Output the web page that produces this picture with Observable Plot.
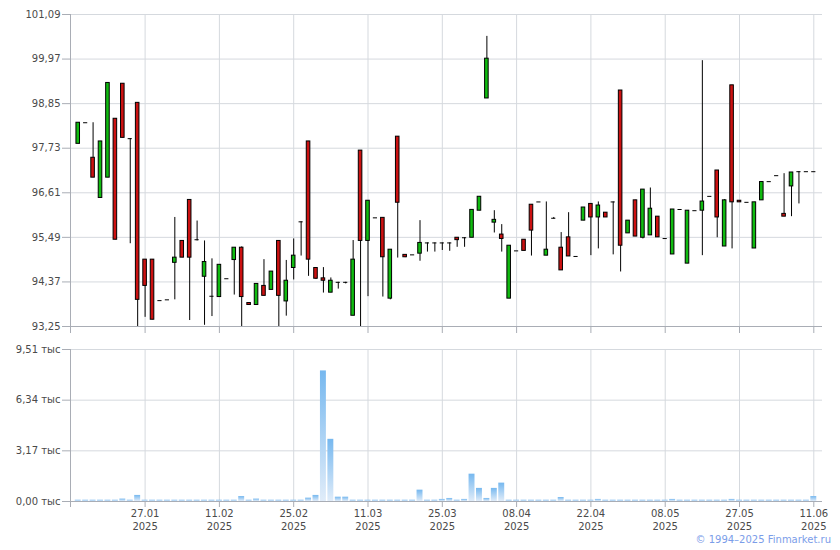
<!DOCTYPE html>
<html><head><meta charset="utf-8">
<script src="https://cdn.jsdelivr.net/npm/d3@7"></script>
<script src="https://cdn.jsdelivr.net/npm/@observablehq/plot@0.6"></script>
<style>
body{margin:0;background:#fff;}
#chart{position:relative;width:840px;height:550px;font-family:"DejaVu Sans",Verdana,sans-serif;}
#chart svg{position:absolute;left:0;}
#copy{position:absolute;right:9px;top:534px;font-size:10px;line-height:12px;color:#7b9de9;white-space:nowrap;}
</style></head><body><div id="chart"><div id="copy">© 1994–2025 Finmarket.ru</div></div>
<script>
// Trading-day candles (index 0..99), prices
const openP = [97.84,98.37,97.49,96.48,96.99,98.47,99.35,97.97,98.87,94.93,
  94.93,93.90,93.92,94.85,95.40,96.43,95.43,94.50,94.01,93.99,
  94.45,94.92,95.23,93.84,93.79,94.27,94.17,95.40,93.88,94.72,
  95.88,97.90,94.72,94.46,94.10,94.36,94.36,93.52,97.67,95.40,
  95.98,95.98,93.95,98.02,95.05,95.05,95.08,95.35,95.35,95.35,
  95.35,95.48,95.48,95.48,96.16,98.98,95.86,95.56,93.95,95.15,
  95.43,96.31,96.38,95.03,95.97,95.23,95.49,95.01,95.91,96.33,
  95.99,96.11,96.38,99.18,95.59,96.42,95.48,95.54,96.01,95.46,
  95.06,96.19,94.83,96.16,96.16,96.52,97.17,95.26,99.31,96.41,
  96.37,95.21,96.42,96.89,97.04,96.08,96.77,97.14,97.14,97.14];
const highP = [98.37,98.37,98.37,97.90,99.37,98.47,99.35,97.97,98.87,94.93,
  94.93,93.90,93.92,95.99,95.40,96.43,95.90,95.40,94.95,94.80,
  94.45,95.23,95.25,93.84,94.32,94.93,94.63,95.40,94.91,95.45,
  95.88,97.90,94.72,94.73,94.47,94.36,94.36,95.41,97.67,96.41,
  95.98,95.98,95.18,98.02,95.05,95.05,95.91,95.35,95.35,95.35,
  95.35,95.48,95.48,96.18,96.51,100.54,96.16,95.81,95.28,95.15,
  95.43,96.31,96.38,96.38,95.99,95.61,96.11,95.01,96.24,96.33,
  96.38,96.11,96.38,99.18,95.91,96.42,96.69,96.73,96.01,95.46,
  96.19,96.19,96.16,96.16,99.93,96.52,97.17,96.44,99.31,96.41,
  96.37,96.37,96.88,96.89,97.04,97.09,97.12,97.14,97.14,97.14];
const lowP = [97.84,98.37,96.99,96.48,96.99,95.43,97.99,95.33,93.25,93.48,
  93.42,93.90,93.92,93.92,94.98,93.40,95.40,93.28,93.50,93.99,
  94.45,94.04,93.25,93.79,93.79,94.02,94.17,93.25,93.51,94.42,
  95.02,94.51,94.43,94.09,94.10,94.19,94.32,93.52,93.25,94.00,
  95.98,93.99,93.92,94.97,94.98,95.05,94.89,95.12,95.12,95.16,
  95.14,95.24,95.24,95.48,96.16,98.98,95.60,95.12,93.95,95.15,
  95.15,95.02,96.38,95.03,95.95,94.66,95.01,95.01,95.91,95.03,
  95.20,95.99,95.05,94.62,95.59,95.51,95.45,95.54,95.49,95.46,
  95.06,96.19,94.83,96.16,95.03,96.52,95.48,95.26,95.20,96.37,
  96.37,95.21,96.42,96.89,97.04,96.01,96.01,96.33,97.14,97.14];
const closeP = [98.37,98.37,96.99,97.90,99.37,95.43,97.99,97.97,93.92,94.27,
  93.42,93.90,93.92,94.98,94.98,94.98,95.43,94.87,94.01,94.80,
  94.45,95.23,93.99,93.79,94.32,94.02,94.63,94.02,94.40,95.03,
  95.88,94.93,94.45,94.40,94.40,94.36,94.36,94.93,95.40,96.41,
  95.98,94.99,95.18,96.36,94.99,95.05,95.35,95.35,95.35,95.35,
  95.35,95.42,95.48,96.18,96.51,99.98,95.93,95.45,95.28,95.15,
  95.15,95.66,96.38,95.18,95.97,94.66,95.01,95.01,96.24,95.99,
  96.29,95.99,96.38,95.28,95.91,95.51,96.69,96.21,95.49,95.46,
  96.19,96.19,96.16,96.16,96.39,96.52,95.99,96.42,96.37,96.37,
  96.37,96.37,96.88,96.89,97.04,96.01,97.12,97.14,97.14,97.14];
// Volume, thousands
const volume = [0.08,0.08,0.08,0.08,0.08,0.08,0.15,0.08,0.38,0.08,
  0.08,0.08,0.08,0.08,0.08,0.08,0.08,0.08,0.08,0.08,
  0.08,0.08,0.31,0.08,0.15,0.08,0.08,0.08,0.08,0.08,
  0.08,0.21,0.38,8.17,3.89,0.27,0.27,0.08,0.08,0.08,
  0.08,0.08,0.08,0.08,0.08,0.08,0.71,0.08,0.08,0.13,
  0.19,0.08,0.13,1.71,0.82,0.19,0.82,1.15,0.08,0.08,
  0.08,0.08,0.08,0.08,0.08,0.25,0.08,0.08,0.08,0.08,
  0.13,0.08,0.08,0.08,0.08,0.08,0.08,0.08,0.08,0.08,
  0.13,0.08,0.08,0.08,0.08,0.08,0.08,0.08,0.13,0.08,
  0.08,0.08,0.08,0.08,0.08,0.08,0.08,0.08,0.08,0.31];
const tickLabels = ["27.01\n2025","11.02\n2025","25.02\n2025","11.03\n2025","25.03\n2025",
  "08.04\n2025","22.04\n2025","08.05\n2025","27.05\n2025","11.06\n2025"];
const priceTicks = [93.25,94.37,95.49,96.61,97.73,98.85,99.97,101.09];
const volTicks = [0,3.17,6.34,9.51];

const candles = openP.map((o,i)=>({i, open:o, high:highP[i], low:lowP[i], close:closeP[i]}));
const vols = volume.map((v,i)=>({i, v}));
const tickIdx = tickLabels.map((_,k)=>9+10*k);
const labelOf = new Map(tickIdx.map((t,k)=>[t,tickLabels[k]]));
const xDomain = [-1.04, 100.17];
const gridC = "#d5d9de", axisC = "#a9adb5", textC = "#4a4a4a";
const green = "#10bb10", red = "#cc1111";
const fmt = d => d.toFixed(2).replace(".", ",");
const font = {fontFamily:'"DejaVu Sans",Verdana,sans-serif', fontSize:"10px", color:textC, background:"transparent"};

const bodies = candles.filter(d => d.open !== d.close);
const dojis = candles.filter(d => d.open === d.close);
const wicks = candles.filter(d => d.high > d.low);

const topPlot = Plot.plot({
  width:840, height:336, marginTop:14, marginBottom:10, marginLeft:70, marginRight:18,
  style: font,
  x:{domain:xDomain, axis:null},
  y:{domain:[93.25,101.09], axis:null},
  marks:[
    Plot.gridY(priceTicks, {stroke:gridC, strokeOpacity:1}),
    Plot.gridX(tickIdx, {stroke:gridC, strokeOpacity:1}),
    Plot.ruleX([xDomain[0]], {stroke:axisC}),
    Plot.ruleY([93.25], {stroke:axisC}),
    Plot.axisY(priceTicks, {tickSize:8, tickPadding:2, tickFormat:fmt, stroke:axisC, fill:textC, label:null}),
    Plot.axisX([xDomain[0], ...tickIdx], {tickSize:7, tickFormat:()=>"", stroke:axisC, label:null}),
    Plot.ruleX(wicks, {x:"i", y1:"low", y2:"high", stroke:"#000", strokeWidth:1}),
    Plot.rect(bodies, {x1:d=>d.i-0.24, x2:d=>d.i+0.24, y1:"open", y2:"close",
      fill:d=>d.close>d.open?green:red, stroke:"#000", strokeWidth:1}),
    Plot.ruleY(dojis, {y:"close", x1:d=>d.i-0.28, x2:d=>d.i+0.28, stroke:"#000", strokeWidth:1})
  ]
});
topPlot.style.top = "0px";

const botPlot = Plot.plot({
  width:840, height:215, marginTop:14, marginBottom:49, marginLeft:70, marginRight:18,
  style: font,
  x:{domain:xDomain, axis:null},
  y:{domain:[0,9.51], axis:null},
  marks:[
    Plot.gridY(volTicks, {stroke:gridC, strokeOpacity:1}),
    Plot.gridX(tickIdx, {stroke:gridC, strokeOpacity:1}),
    Plot.rectY(vols, {x1:d=>d.i-0.4, x2:d=>d.i+0.4, y:"v", fill:"url(#volGrad)"}),
    Plot.ruleX([xDomain[0]], {stroke:axisC}),
    Plot.ruleY([0], {stroke:axisC}),
    Plot.axisY(volTicks, {tickSize:8, tickPadding:2, tickFormat:d=>fmt(d)+" тыс", stroke:axisC, fill:textC, label:null}),
    Plot.axisX([xDomain[0], ...tickIdx], {tickSize:6, tickPadding:0, lineHeight:1.3,
      tickFormat:d=>labelOf.get(d) || "", stroke:axisC, fill:textC, label:null})
  ]
});
botPlot.style.top = "335px";
const defs = d3.select(botPlot).insert("defs", ":first-child");
const lg = defs.append("linearGradient").attr("id","volGrad").attr("x1",0).attr("y1",0).attr("x2",0).attr("y2",1);
lg.append("stop").attr("offset","0%").attr("stop-color","#76b8ef");
lg.append("stop").attr("offset","100%").attr("stop-color","#e0ecf9");

const chart = document.getElementById("chart");
chart.appendChild(topPlot);
chart.appendChild(botPlot);
</script>
</body></html>
